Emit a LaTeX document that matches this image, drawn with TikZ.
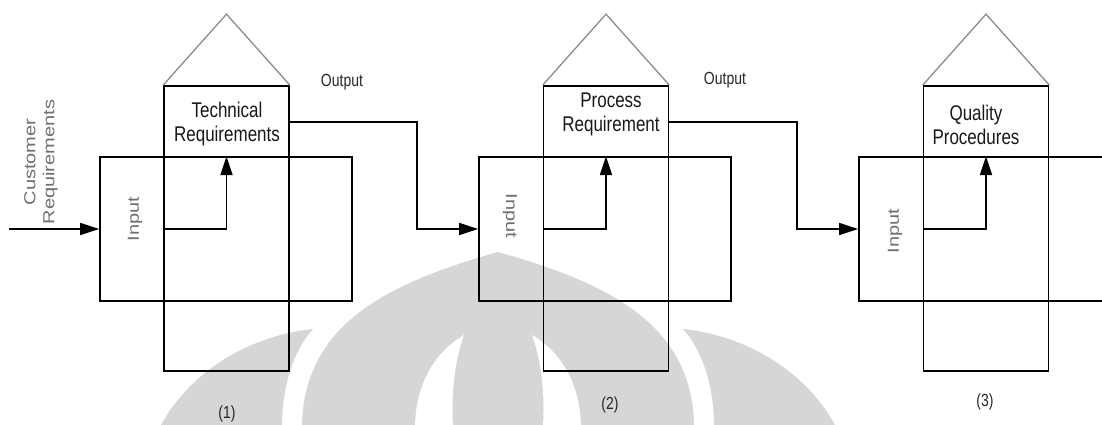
\documentclass[tikz,border=0pt]{standalone}
\usepackage{fontspec}
\setmainfont{Liberation Sans}
\usetikzlibrary{arrows.meta}
\definecolor{wmark}{HTML}{D6D6D6}
\definecolor{inkgray}{HTML}{707070}
\definecolor{roofgray}{HTML}{8C8C8C}
% text stretched vertically (horizontal labels) or along the reading direction (rotated labels)
\newcommand{\talltext}[1]{\scalebox{1}[1.25]{#1}}
\newcommand{\longtext}[1]{\scalebox{1.25}[1]{#1}}
\begin{document}
\begin{tikzpicture}[x=1pt,y=-1pt,
  colbox/.style={draw, line width=1.7pt, minimum width=125pt, minimum height=285pt, inner sep=0pt},
  rectbox/.style={draw, line width=1.7pt, minimum width=252pt, minimum height=144pt, inner sep=0pt},
  roof/.style={draw=roofgray, line width=1.3pt},
  arr/.style={line width=1.7pt, -{Triangle[length=19pt,width=12pt]}},
  title/.style={font=\fontsize{17}{19}\selectfont, text=black!90, inner sep=0pt},
  outlbl/.style={font=\fontsize{14}{16}\selectfont, text=black!85, inner sep=0pt},
  numlbl/.style={font=\fontsize{14}{16}\selectfont, text=black!85, inner sep=0pt},
  inlbl/.style={font=\fontsize{16}{18}\selectfont, text=inkgray, inner sep=0pt},
  custlbl/.style={font=\fontsize{16}{19}\selectfont, text=inkgray, align=center, inner sep=0pt}
]
\clip (0,0) rectangle (1102,425);
\fill[white] (0,0) rectangle (1102,425);

% faint emblem in the background
\fill[wmark] (302,425) .. controls (304,322) and (392,282) .. (498,252)
  .. controls (604,282) and (692,322) .. (694,425) -- cycle;
\fill[white] (415,425) .. controls (416,390) and (430,355) .. (464,335)
  .. controls (455,360) and (451,392) .. (453,425) -- cycle;
\fill[white] (581,425) .. controls (580,390) and (566,355) .. (532,335)
  .. controls (541,360) and (545,392) .. (543,425) -- cycle;
\fill[wmark] (161,425) .. controls (190,372) and (248,336) .. (313,329)
  .. controls (292,352) and (282,390) .. (282,425) -- cycle;
\fill[wmark] (835,425) .. controls (806,372) and (748,336) .. (683,329)
  .. controls (704,352) and (714,390) .. (714,425) -- cycle;

% stage boxes
\node[colbox]  (c1) at (226.5,228.5) {};
\node[rectbox] (r1) at (226,229) {};
\node[colbox]  (c2) at (606,228.5) {};
\node[rectbox] (r2) at (605,229) {};
\node[colbox]  (c3) at (986,228.5) {};
\node[rectbox] (r3) at (985,229) {};

% roofs
\draw[roof] (c1.north west) -- ([yshift=71pt]c1.north) -- (c1.north east);
\draw[roof] (c2.north west) -- ([yshift=71pt]c2.north) -- (c2.north east);
\draw[roof] (c3.north west) -- ([yshift=71pt]c3.north) -- (c3.north east);

% titles
\node[title] (t1) at (227,125) {\talltext{\begin{tabular}{@{}c@{}}Technical\\Requirements\end{tabular}}};
\node[title] (t2) at (611,115) {\talltext{\begin{tabular}{@{}c@{}}Process\\Requirement\end{tabular}}};
\node[title] (t3) at (976,128) {\talltext{\begin{tabular}{@{}c@{}}Quality\\Procedures\end{tabular}}};

% input labels
\node[inlbl, rotate=90]  (i1) at (135,219) {\longtext{Input}};
\node[inlbl, rotate=-90] (i2) at (510,216) {\longtext{Input}};
\node[inlbl, rotate=90]  (i3) at (895,231) {\longtext{Input}};

% customer requirements entering stage 1
\node[custlbl, rotate=90] (cr) at (41,162) {\longtext{Customer}\\\longtext{Requirements}};
\coordinate (cust) at (9,229);
\draw[arr] (cust) -- (r1.west);

% inner flows from input to each title
\draw[arr] (c1.west |- r1.center) -| (r1.north -| c1.center);
\draw[arr] (c2.west |- r2.center) -| (r2.north -| c2.center);
\draw[arr] (c3.west |- r3.center) -| (r3.north -| c3.center);

% outputs passed on to the next stage
\draw[arr] ([yshift=-37pt]c1.north east) -- ++(127,0) |- (r2.west);
\draw[arr] ([yshift=-37pt]c2.north east) -- ++(127.5,0) |- (r3.west);
\node[outlbl] (o1) at (342,82) {\talltext{Output}};
\node[outlbl] (o2) at (725,80) {\talltext{Output}};

% stage numbers
\node[numlbl] (n1) at (227,414) {\talltext{(1)}};
\node[numlbl] (n2) at (610,405) {\talltext{(2)}};
\node[numlbl] (n3) at (985,402) {\talltext{(3)}};
\end{tikzpicture}
\end{document}
